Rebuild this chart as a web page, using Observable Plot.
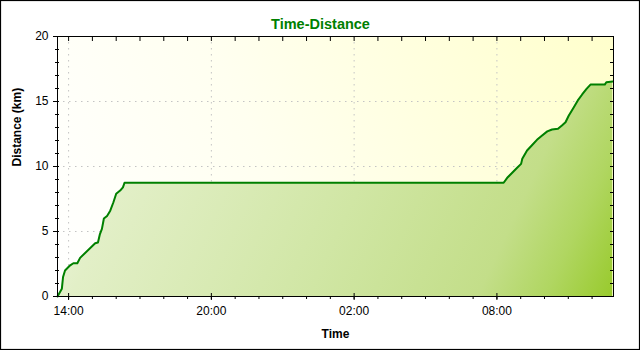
<!DOCTYPE html>
<html>
<head>
<meta charset="utf-8">
<script src="https://cdn.jsdelivr.net/npm/d3@7"></script>
<script src="https://cdn.jsdelivr.net/npm/@observablehq/plot@0.6"></script>
<style>
  html, body { margin: 0; padding: 0; background: #fff; }
  svg { display: block; }
</style>
</head>
<body>
<div id="chart"></div>
<script>
// ---- data (day 1 = 2000-01-01, day 2 = 2000-01-02) ----
const times = [
  "2000-01-01T13:32", "2000-01-01T13:38", "2000-01-01T13:43", "2000-01-01T13:46",
  "2000-01-01T13:51", "2000-01-01T14:04", "2000-01-01T14:12", "2000-01-01T14:22",
  "2000-01-01T14:29", "2000-01-01T15:07", "2000-01-01T15:14", "2000-01-01T15:19",
  "2000-01-01T15:24", "2000-01-01T15:29", "2000-01-01T15:37", "2000-01-01T15:45",
  "2000-01-01T15:53", "2000-01-01T16:00", "2000-01-01T16:10", "2000-01-01T16:17",
  "2000-01-01T16:21",
  "2000-01-02T08:17", "2000-01-02T08:26", "2000-01-02T08:38", "2000-01-02T08:51",
  "2000-01-02T09:01", "2000-01-02T09:04", "2000-01-02T09:16", "2000-01-02T09:29",
  "2000-01-02T09:41", "2000-01-02T09:54", "2000-01-02T10:07", "2000-01-02T10:19",
  "2000-01-02T10:34", "2000-01-02T10:44", "2000-01-02T10:53", "2000-01-02T11:01",
  "2000-01-02T11:14", "2000-01-02T11:24", "2000-01-02T11:35", "2000-01-02T11:46",
  "2000-01-02T11:56", "2000-01-02T12:32", "2000-01-02T12:36", "2000-01-02T12:52"
];
const distances = [
  0, 0.33, 0.6, 1.5,
  2.0, 2.4, 2.56, 2.56,
  2.97, 4.1, 4.15, 4.8,
  5.2, 6.0, 6.2, 6.6,
  7.25, 7.9, 8.15, 8.4,
  8.75,
  8.75, 9.13, 9.5, 9.9,
  10.2, 10.6, 11.23, 11.65,
  12.05, 12.38, 12.7, 12.85,
  12.9, 13.15, 13.4, 13.9,
  14.56, 15.08, 15.54, 15.97,
  16.3, 16.3, 16.48, 16.54
];
const xDomain = ["2000-01-01T13:32", "2000-01-02T12:54"];
const xMajorTicks = ["2000-01-01T14:00", "2000-01-01T20:00", "2000-01-02T02:00", "2000-01-02T08:00"];
const yMajorTicks = [0, 5, 10, 15, 20];
const yGridTicks = [5, 10, 15];
const titleText = "Time-Distance";
const xLabel = "Time";
const yLabel = "Distance (km)";

// ---- build ----
const parse = s => new Date(s + "Z");
const data = times.map((t, i) => ({t: parse(t), d: distances[i]}));
const domX = xDomain.map(parse);
const majX = xMajorTicks.map(parse);
const minorX = d3.utcHour.range(domX[0], domX[1]);
const minorY = d3.range(0, 21, 1);

const W = 640, H = 350;
const mL = 57, mR = 27, mT = 36, mB = 54;

const defs = (index, scales, values, dim) => {
  const g = d3.create("svg:g");
  const defsEl = g.append("defs");
  const x0 = dim.marginLeft, y0 = dim.marginTop;
  const x1 = dim.width - dim.marginRight, y1 = dim.height - dim.marginBottom;
  const bg = defsEl.append("linearGradient").attr("id", "bgGrad")
    .attr("gradientUnits", "userSpaceOnUse")
    .attr("x1", x0).attr("y1", y1).attr("x2", x1).attr("y2", y0);
  bg.append("stop").attr("offset", 0).attr("stop-color", "#ffffff");
  bg.append("stop").attr("offset", 0.4).attr("stop-color", "#fffff0");
  bg.append("stop").attr("offset", 1).attr("stop-color", "#ffffcc");
  const ag = defsEl.append("linearGradient").attr("id", "areaGrad")
    .attr("gradientUnits", "userSpaceOnUse")
    .attr("x1", x0).attr("y1", y0).attr("x2", x1).attr("y2", y1);
  ag.append("stop").attr("offset", 0).attr("stop-color", "#f6faee");
  ag.append("stop").attr("offset", 0.2).attr("stop-color", "#e2efc7");
  ag.append("stop").attr("offset", 0.55).attr("stop-color", "#d0e6a4");
  ag.append("stop").attr("offset", 0.8).attr("stop-color", "#c3de89");
  ag.append("stop").attr("offset", 0.9).attr("stop-color", "#b0d661");
  ag.append("stop").attr("offset", 1).attr("stop-color", "#98ca2c");
  return g.node();
};

const border = (index, scales, values, dim) => {
  const r = d3.create("svg:rect")
    .attr("x", 0.5).attr("y", 0.5)
    .attr("width", dim.width - 1).attr("height", dim.height - 1)
    .attr("fill", "none").attr("stroke", "#000").attr("stroke-width", 1.2);
  return r.node();
};

const chart = Plot.plot({
  width: W, height: H,
  marginLeft: mL, marginRight: mR, marginTop: mT, marginBottom: mB,
  style: {fontFamily: "'Liberation Sans', Arial, sans-serif", fontSize: "12px", color: "#000", background: "#fff"},
  x: {type: "utc", domain: domX, label: null},
  y: {domain: [0, 20], label: null},
  marks: [
    defs,
    Plot.frame({fill: "url(#bgGrad)", stroke: null}),
    Plot.gridX(majX, {stroke: "#c4c4c4", strokeOpacity: 1, strokeDasharray: "1.5,4.5"}),
    Plot.gridY(yGridTicks, {stroke: "#c4c4c4", strokeOpacity: 1, strokeDasharray: "1.5,4.5"}),
    Plot.areaY(data, {x: "t", y: "d", fill: "url(#areaGrad)"}),
    Plot.lineY(data, {x: "t", y: "d", stroke: "#008000", strokeWidth: 2}),
    Plot.frame({stroke: "#000", strokeWidth: 1}),
    // left axis
    Plot.axisY(yMajorTicks, {anchor: "left", tickSize: 4, tickPadding: 5, fontSize: 12, label: null}),
    Plot.axisY(minorY, {anchor: "left", tickSize: 2, text: null, label: null}),
    Plot.axisY(minorY, {anchor: "left", tickSize: -2, text: null, label: null}),
    // right axis (inward ticks)
    Plot.axisY(minorY, {anchor: "right", tickSize: -4, text: null, label: null}),
    // bottom axis
    Plot.axisX(majX, {anchor: "bottom", tickSize: 4, tickPadding: 6, tickFormat: d3.utcFormat("%H:%M"), fontSize: 12, label: null}),
    Plot.axisX(majX, {anchor: "bottom", tickSize: -3, text: null, label: null}),
    Plot.axisX(minorX, {anchor: "bottom", tickSize: 3, text: null, label: null}),
    // top axis (inward ticks)
    Plot.axisX(minorX, {anchor: "top", tickSize: -4, text: null, label: null}),
    // titles
    Plot.text([titleText], {frameAnchor: "top", dx: -15, dy: -18, fontSize: 14.5, fontWeight: "bold", fill: "#008000"}),
    Plot.text([xLabel], {frameAnchor: "bottom", dy: 41, fontSize: 12, fontWeight: "bold", fill: "#000"}),
    Plot.text([yLabel], {frameAnchor: "left", dx: -40, rotate: -90, fontSize: 12, fontWeight: "bold", fill: "#000"}),
    border
  ]
});
document.getElementById("chart").appendChild(chart);
</script>
</body>
</html>
